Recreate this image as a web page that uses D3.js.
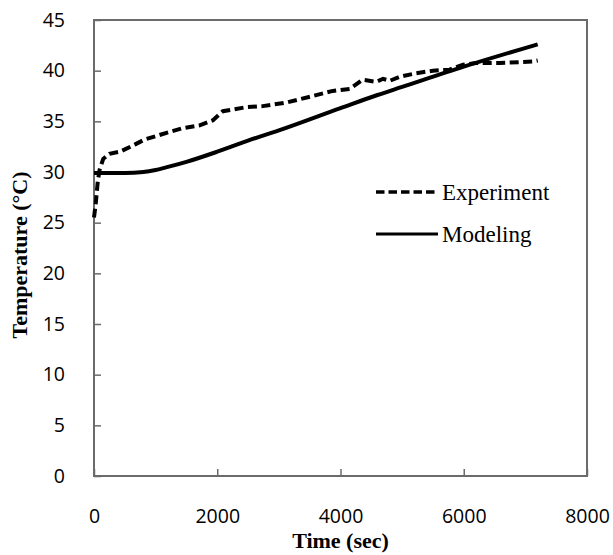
<!DOCTYPE html>
<html>
<head>
<meta charset="utf-8">
<script src="https://cdn.jsdelivr.net/npm/d3@7"></script>
<style>
  body { margin: 0; background: #fff; }
  svg { display: block; }
</style>
</head>
<body>
<svg id="chart" width="613" height="555"></svg>
<script>
// values
const expTime = [0, 30, 60, 90, 150, 250, 420, 660, 820, 1090, 1420, 1715, 1930, 2090, 2470, 2740, 3120, 3550, 3875, 4150, 4360, 4580, 4690, 4800, 4960, 5230, 5500, 5770, 5990, 6200, 6585, 7120, 7200];
const expTemp = [25.5, 27.0, 29.0, 30.2, 31.3, 31.8, 32.0, 32.7, 33.2, 33.7, 34.3, 34.6, 35.1, 36.0, 36.4, 36.5, 36.85, 37.5, 38.0, 38.2, 39.1, 38.9, 39.2, 39.0, 39.4, 39.75, 40.0, 40.1, 40.6, 40.75, 40.75, 40.9, 41.0];

const modTime = [0, 500, 800, 1000, 1200, 1500, 2000, 2500, 3000, 4000, 4600, 5000, 6000, 7200];
const modTemp = [29.9, 29.9, 30.0, 30.2, 30.5, 31.0, 32.0, 33.1, 34.1, 36.3, 37.6, 38.4, 40.4, 42.6];

const xTicks = [0, 2000, 4000, 6000, 8000];
const yTicks = [0, 5, 10, 15, 20, 25, 30, 35, 40, 45];

const seriesNames = ["Experiment", "Modeling"];

const margin = { top: 20, right: 26, bottom: 79, left: 94 };
const width = 613 - margin.left - margin.right;
const height = 555 - margin.top - margin.bottom;

const svg = d3.select("#chart");
const g = svg.append("g").attr("transform", `translate(${margin.left},${margin.top})`);

const x = d3.scaleLinear().domain([0, 8000]).range([0, width]);
const y = d3.scaleLinear().domain([0, 45]).range([height, 0]);

const tickFont = "'Open Sans', sans-serif";
const titleFont = "'Liberation Serif', 'Times New Roman', serif";
const axisColor = "#6b6b6b";

// y axis (ticks drawn inward)
const yAxis = g.append("g")
    .call(d3.axisLeft(y).tickValues(yTicks).tickSize(-7).tickPadding(29).tickFormat(d3.format("d")));
yAxis.select(".domain").remove();
yAxis.selectAll(".tick line").attr("stroke", axisColor).attr("stroke-width", 1.5);
yAxis.selectAll("text")
    .style("font-family", tickFont).style("font-size", "19.5px").attr("fill", "#000");

// x axis (ticks drawn inward, labels sit well below)
const xAxis = g.append("g")
    .attr("transform", `translate(0,${height})`)
    .call(d3.axisBottom(x).tickValues(xTicks).tickSize(-7).tickPadding(41).tickFormat(d3.format("d")));
xAxis.select(".domain").remove();
xAxis.selectAll(".tick line").attr("stroke", axisColor).attr("stroke-width", 1.5);
xAxis.selectAll("text")
    .style("font-family", tickFont).style("font-size", "19.5px").attr("fill", "#000")
    .attr("dy", "0.3em");

// frame
g.append("rect")
    .attr("x", 0).attr("y", 0)
    .attr("width", width).attr("height", height)
    .attr("fill", "none")
    .attr("stroke", axisColor)
    .attr("stroke-width", 2);

const line = d3.line()
    .x(d => x(d[0]))
    .y(d => y(d[1]))
    .curve(d3.curveMonotoneX);

const expData = expTime.map((t, i) => [t, expTemp[i]]);
const modData = modTime.map((t, i) => [t, modTemp[i]]);

g.append("path")
    .datum(modData)
    .attr("d", line)
    .attr("fill", "none")
    .attr("stroke", "#000")
    .attr("stroke-width", 4);

g.append("path")
    .datum(expData)
    .attr("d", d3.line().x(d => x(d[0])).y(d => y(d[1])).curve(d3.curveLinear))
    .attr("fill", "none")
    .attr("stroke", "#000")
    .attr("stroke-width", 4)
    .attr("stroke-dasharray", "9,4.5");

// legend
const legend = g.append("g").attr("transform", "translate(282,172)");
seriesNames.forEach((name, i) => {
    const row = legend.append("g").attr("transform", `translate(0,${i * 42})`);
    row.append("line")
        .attr("x1", 0).attr("x2", 62)
        .attr("y1", 0).attr("y2", 0)
        .attr("stroke", "#000")
        .attr("stroke-width", i === 0 ? 3.5 : 3)
        .attr("stroke-dasharray", i === 0 ? "8.5,4" : null);
    row.append("text")
        .attr("x", 66).attr("y", 7.5)
        .style("font-family", titleFont)
        .style("font-size", "23px")
        .attr("fill", "#000")
        .text(name);
});

// axis titles
svg.append("text")
    .attr("x", margin.left + width / 2)
    .attr("y", 548)
    .attr("text-anchor", "middle")
    .style("font-family", titleFont)
    .style("font-size", "22px")
    .style("font-weight", "bold")
    .attr("fill", "#000")
    .text("Time (sec)");

svg.append("text")
    .attr("transform", "translate(27,255) rotate(-90)")
    .attr("text-anchor", "middle")
    .style("font-family", titleFont)
    .style("font-size", "22px")
    .style("font-weight", "bold")
    .attr("fill", "#000")
    .text("Temperature (°C)");
</script>
</body>
</html>
